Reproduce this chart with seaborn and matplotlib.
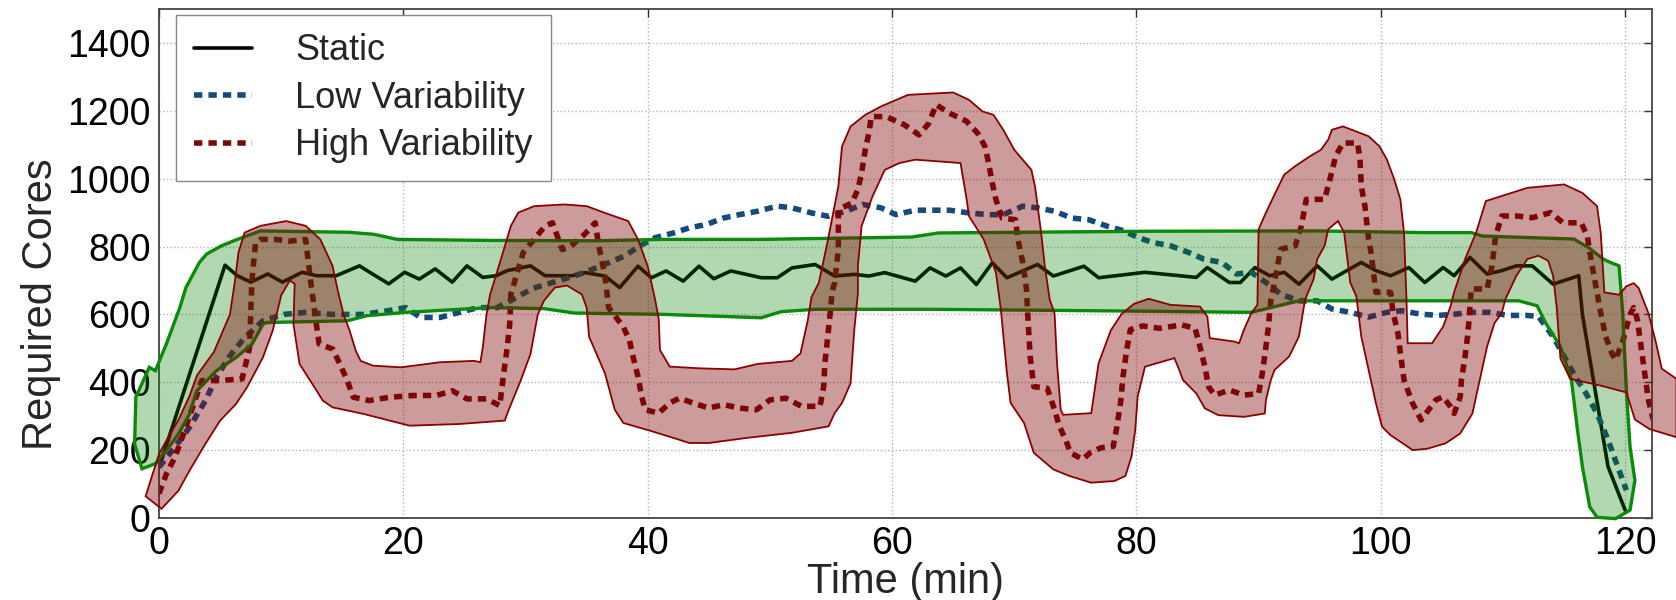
import numpy as np
import matplotlib
matplotlib.use('Agg')
import matplotlib.pyplot as plt
import seaborn as sns

# Static workload (black solid)
static_t = [0.2, 5.4, 6.4, 7.5, 8.9, 10.1, 11.7, 12.9, 14.5, 16.4,
            17.7, 18.8, 20.1, 21.3, 22.6, 24.0, 25.2, 26.5, 27.6, 28.5,
            30.4, 31.6, 33.8, 34.9, 36.5, 37.7, 39.2, 40.3, 41.5, 42.9,
            44.2, 45.4, 46.8, 49.3, 50.6, 51.8, 53.7, 55.3, 56.9, 58.1,
            59.4, 61.9, 63.1, 64.4, 65.6, 66.9, 68.2, 69.4, 71.9, 73.2,
            75.7, 76.9, 80.7, 84.9, 85.8, 87.6, 88.5, 89.7, 90.9, 92.1,
            93.3, 94.8, 96.0, 98.4, 99.6, 100.8, 102.3, 103.6, 105.1, 106.0,
            107.3, 108.7, 109.9, 111.1, 112.4, 114.1, 116.2, 116.5, 117.4, 118.6, 120.0]
static_y = [170, 745, 714, 695, 719, 695, 724, 714, 714, 743,
            714, 690, 724, 704, 734, 695, 743, 709, 714, 729,
            743, 714, 714, 723, 713, 679, 742, 708, 728, 698,
            742, 705, 728, 708, 708, 737, 747, 713, 718, 713,
            723, 698, 737, 713, 737, 688, 752, 708, 747, 713,
            742, 708, 724, 709, 738, 694, 694, 738, 714, 724,
            689, 743, 704, 753, 729, 714, 738, 694, 738, 714,
            768, 719, 729, 743, 743, 689, 714, 600, 407, 151, 23]

# Low variability (blue dashed)
low_t = [0, 1.3, 2.5, 3.8, 4.7, 5.7, 6.9, 8.5, 10.2, 12,
         14.2, 16.7, 18.6, 20.2, 21.4, 23, 24.6, 26.1, 27.7, 29,
         30.6, 32.5, 34.7, 36.8, 38.1, 39.3, 40.6, 42.1, 43.4, 44.8,
         46.2, 47.5, 49, 50.6, 51.8, 53.4, 54.8, 56.2, 57.6, 59.1,
         60.3, 61.9, 63.4, 64.7, 66.3, 67.8, 69.1, 70.7, 71.9, 73.3,
         74.7, 76.1, 77.6, 78.8, 80.2, 81.3, 82.8, 84.3, 85.5, 87,
         88.2, 89.4, 90.6, 91.8, 93.3, 94.8, 96, 97.5, 99, 100.5,
         101.7, 103.2, 104.7, 106.2, 107.4, 108.9, 110.4, 111.9, 112.9, 114.1,
         115, 115.9, 116.8, 117.7, 118.6, 119.2, 119.8, 120.1]
low_y = [150, 209, 268, 346, 415, 473, 527, 581, 600, 606,
         600, 600, 610, 620, 591, 591, 606, 620, 620, 645,
         677, 697, 722, 752, 772, 801, 826, 840, 855, 865,
         884, 894, 904, 919, 914, 899, 889, 904, 924, 914,
         894, 907, 907, 907, 899, 894, 894, 919, 914, 904,
         884, 879, 860, 848, 826, 812, 802, 782, 763, 753,
         719, 724, 694, 660, 640, 640, 616, 606, 592, 606,
         611, 601, 597, 601, 606, 606, 597, 597, 594, 535,
         476, 417, 367, 308, 230, 170, 111, 82]

# High variability (dark red dashed)
high_t = [0, 0.6, 1.3, 1.9, 2.5, 3.5, 5.0, 6.8, 7.4, 7.6,
          7.9, 8.3, 9.5, 10.7, 12.0, 12.4, 12.8, 13.1, 14.2, 14.8,
          15.4, 15.9, 17.2, 18.9, 20.8, 22.7, 24.0, 25.2, 26.8, 27.9,
          28.0, 28.2, 28.5, 28.7, 28.8, 29.8, 30.7, 31.6, 32.2, 33.0,
          33.7, 34.8, 35.7, 36.0, 36.5, 36.8, 38.0, 38.5, 38.8, 39.2,
          39.5, 39.8, 40.9, 41.8, 42.6, 43.7, 45.0, 46.2, 47.5, 48.9,
          50.0, 51.3, 52.6, 54.1, 54.4, 54.5, 54.7, 54.9, 55.1, 55.3,
          55.6, 55.6, 56.7, 57.2, 57.5, 57.8, 58.1, 58.3, 59.5, 61.0,
          62.2, 63.0, 63.6, 64.7, 66.1, 67.0, 67.6, 67.9, 68.2, 68.5,
          69.0, 70.1, 70.3, 70.7, 71.0, 71.1, 71.3, 71.6, 72.7, 73.2,
          73.7, 74.2, 74.6, 75.6, 76.2, 77.1, 78.1, 78.4, 78.7, 78.9,
          79.2, 79.5, 80.5, 81.9, 83.7, 84.8, 85.2, 85.6, 85.9, 86.4,
          87.6, 88.8, 90.0, 90.3, 90.6, 90.8, 91.0, 91.2, 91.8, 93.0,
          93.5, 93.9, 95.4, 95.9, 96.3, 96.9, 98.1, 98.3, 98.4, 98.7,
          99.0, 99.2, 99.6, 100.8, 101.0, 101.4, 101.6, 101.9, 102.2, 102.6,
          103.3, 103.9, 104.5, 105.1, 105.7, 106.0, 106.5, 106.6, 106.9, 107.1,
          107.2, 107.4, 108.7, 109.1, 109.4, 109.9, 111.1, 112.4, 113.9, 114.9,
          116.4, 116.9, 117.2, 117.5, 117.8, 118.0, 118.4, 118.9, 119.2, 119.8,
          120.4, 120.7, 121.0, 121.3, 121.6, 121.9, 122.3]
high_y = [72, 130, 179, 238, 300, 405, 405, 410, 500, 700,
          810, 821, 821, 816, 821, 700, 591, 513, 498, 454,
          405, 356, 346, 356, 361, 361, 375, 351, 351, 331,
          366, 424, 503, 571, 660, 782, 821, 861, 870, 791,
          801, 835, 870, 801, 713, 620, 563, 524, 475, 417,
          358, 319, 309, 339, 353, 339, 324, 334, 324, 319,
          348, 353, 329, 329, 387, 456, 524, 592, 670, 693,
          791, 909, 928, 968, 1017, 1085, 1134, 1183, 1183, 1159,
          1129, 1163, 1218, 1193, 1169, 1134, 1095, 1046, 987, 938,
          884, 879, 821, 752, 674, 600, 475, 387, 382, 329,
          270, 231, 192, 173, 192, 207, 211, 269, 340, 417,
          495, 555, 566, 559, 569, 559, 505, 446, 387, 362,
          377, 362, 367, 426, 505, 564, 643, 675, 792, 802,
          861, 939, 939, 1007, 1066, 1105, 1105, 1056, 978, 919,
          822, 782, 665, 665, 606, 545, 486, 407, 377, 338,
          289, 318, 348, 357, 328, 308, 357, 407, 476, 535,
          574, 675, 675, 743, 831, 890, 890, 885, 900, 870,
          870, 831, 763, 704, 645, 604, 535, 486, 466, 520,
          600, 620, 584, 505, 427, 348, 290]

# hand drawn green highlight around the static curve (outline, upper / lower side)
green_top_t = [-0.8, -0.3, 0.6, 1.3, 1.7, 2.2, 3.3, 3.9, 5.1, 6.4,
               8.3, 15.5, 17.6, 19.5, 27.0, 35.9, 41.2, 49.3, 61.6, 63.8,
               80.9, 94.8, 103.7, 107.4, 108.3, 115.8, 117.0, 118.2, 118.8, 119.5,
               119.8, 120.1, 120.4, 120.8]
green_top_y = [444, 434, 513, 581, 620, 679, 753, 778, 802, 821,
               846, 842, 836, 821, 818, 817, 821, 821, 828, 840,
               845, 846, 841, 841, 831, 822, 797, 763, 753, 743,
               604, 377, 210, 111]
green_bot_t = [-0.8, -1.9, -2.0, -1.4, -0.3, 0.6, 1.6, 2.5, 3.1, 4.7,
               6.3, 7.6, 8.5, 8.8, 15.4, 17.0, 20.2, 27.1, 31.5, 34.0,
               41.3, 49.3, 50.9, 53.7, 63.1, 78.8, 89.4, 93.3, 111.3, 112.8,
               113.5, 114.7, 115.6, 116.1, 116.5, 117.1, 117.7, 119.2, 120.4, 120.8]
green_bot_y = [444, 356, 218, 145, 160, 199, 248, 307, 375, 434,
               473, 512, 571, 576, 581, 596, 606, 620, 617, 604,
               600, 590, 608, 615, 615, 610, 606, 640, 640, 625,
               574, 505, 407, 259, 151, 33, 2, -2, 23, 111]

# hand drawn red highlight around the high variability curve
red_top_t = [-1.1, -0.6, 0.0, 0.6, 1.6, 2.5, 3.1, 4.5, 5.8, 6.2,
             6.5, 7.0, 8.3, 10.4, 12.0, 13.2, 14.2, 14.6, 15.1, 15.6,
             16.1, 16.5, 17.5, 19.8, 23.0, 25.8, 26.3, 26.5, 26.8, 27.1,
             27.9, 28.8, 29.4, 30.7, 33.2, 35.0, 36.5, 38.4, 39.2, 40.0,
             40.6, 40.9, 41.0, 41.8, 44.3, 47.1, 49.0, 51.8, 52.5, 53.1,
             53.4, 54.0, 54.7, 55.6, 55.9, 56.6, 57.8, 59.1, 61.3, 65.0,
             66.3, 67.4, 68.3, 69.1, 70.0, 71.4, 71.7, 72.2, 72.5, 72.9,
             73.3, 73.5, 73.8, 74.0, 76.3, 76.9, 77.9, 78.8, 79.8, 81.0,
             82.8, 85.2, 85.8, 86.0, 88.0, 88.4, 88.8, 89.4, 89.9, 90.0,
             90.6, 91.5, 92.1, 93.0, 94.2, 95.1, 95.7, 96.0, 96.9, 99.0,
             99.9, 100.5, 101.1, 101.6, 101.9, 102.0, 102.1, 102.2, 104.2, 105.1,
             105.7, 106.0, 106.9, 107.8, 108.6, 109.9, 112.0, 115.0, 116.5, 117.7,
             118.0, 118.3, 118.6, 119.5, 120.1, 120.7, 121.1, 121.9, 122.5, 123.0, 124.2]
red_top_y = [64, 121, 189, 228, 290, 360, 420, 490, 600, 695,
             782, 841, 861, 875, 861, 821, 743, 675, 600, 552,
             493, 463, 449, 444, 459, 463, 459, 503, 600, 659,
             753, 861, 900, 919, 924, 919, 899, 875, 821, 742,
             644, 585, 495, 446, 441, 438, 454, 463, 485, 583,
             651, 693, 811, 977, 1095, 1154, 1188, 1213, 1247, 1254,
             1232, 1198, 1188, 1144, 1085, 1026, 977, 840, 742, 644,
             602, 456, 319, 304, 309, 456, 553, 602, 631, 646,
             628, 623, 594, 530, 520, 515, 555, 604, 628, 851,
             900, 968, 1012, 1037, 1066, 1085, 1115, 1144, 1154, 1125,
             1095, 1056, 998, 939, 841, 743, 645, 515, 515, 564,
             623, 665, 763, 841, 934, 949, 973, 983, 958, 919,
             841, 665, 663, 658, 683, 692, 678, 604, 520, 440, 410]
red_bot_t = [-1.1, 0.2, 1.6, 1.9, 2.5, 3.8, 5.0, 6.3, 7.2, 8.5,
             9.3, 10.0, 10.7, 11.1, 11.0, 11.5, 12.9, 13.4, 14.2, 16.7,
             20.5, 24.6, 28.3, 28.6, 29.6, 30.4, 31.0, 31.5, 32.4, 33.4,
             34.6, 35.0, 35.2, 36.5, 37.3, 38.0, 40.3, 42.1, 43.4, 45.0,
             48.1, 51.8, 54.8, 55.3, 55.9, 56.6, 56.9, 57.2, 57.2, 57.5,
             58.4, 59.4, 60.6, 61.9, 65.6, 66.1, 66.3, 67.5, 68.5, 68.9,
             69.4, 69.7, 70.8, 71.6, 73.2, 74.5, 76.3, 78.2, 79.1, 79.6,
             79.9, 80.1, 80.7, 83.1, 83.4, 83.8, 84.9, 85.6, 86.7, 88.8,
             90.5, 90.6, 91.0, 91.3, 92.5, 93.3, 93.8, 94.5, 94.8, 95.4,
             95.7, 96.5, 97.0, 97.2, 97.5, 98.0, 98.4, 99.6, 100.1, 100.8,
             102.0, 102.6, 103.8, 105.3, 106.5, 107.5, 108.1, 108.7, 109.3, 109.9,
             110.2, 111.1, 112.0, 112.9, 113.7, 114.1, 114.4, 114.7, 115.5, 118.0,
             120.1, 120.8, 122.0, 124.2]
red_bot_y = [64, 27, 81, 101, 140, 219, 287, 336, 385, 473,
             552, 656, 700, 690, 571, 454, 375, 346, 326, 307,
             272, 277, 287, 317, 405, 483, 600, 640, 679, 685,
             659, 620, 534, 426, 319, 280, 256, 236, 221, 221,
             236, 251, 270, 309, 339, 397, 553, 661, 742, 860,
             948, 1026, 1046, 1056, 1046, 939, 889, 821, 723, 615,
             426, 339, 280, 192, 143, 124, 104, 109, 124, 182,
             259, 358, 446, 471, 446, 407, 367, 323, 303, 298,
             308, 348, 407, 436, 476, 535, 643, 704, 763, 802,
             851, 875, 841, 782, 694, 653, 535, 338, 269, 244,
             215, 200, 204, 220, 249, 308, 407, 505, 574, 604,
             645, 714, 763, 773, 758, 714, 620, 470, 410, 390,
             370, 290, 262, 238]

sns.set_theme(style='white')
plt.rcParams['font.family'] = ['Liberation Sans', 'DejaVu Sans']

fig = plt.figure(figsize=(16.76, 6), dpi=100)
ax = fig.add_axes([0.0949, 0.1367, 0.8908, 0.8483])

dash = (0, (1.5, 1.1))
sns.lineplot(x=static_t, y=static_y, ax=ax, color='black', lw=2.6,
             label='Static', sort=False, estimator=None, zorder=2)
sns.lineplot(x=low_t, y=low_y, ax=ax, color='#154a7e', lw=4, linestyle=dash,
             label='Low Variability', sort=False, estimator=None, zorder=2)
sns.lineplot(x=high_t, y=high_y, ax=ax, color='#7d0808', lw=4, linestyle=dash,
             label='High Variability', sort=False, estimator=None, zorder=2)

# highlight bands drawn over the curves
ax.fill(np.r_[green_top_t, green_bot_t[::-1]], np.r_[green_top_y, green_bot_y[::-1]],
        facecolor=(0.0, 0.5, 0.0, 0.3), edgecolor='#0b8a0b', lw=2.4,
        zorder=3, clip_on=False)
ax.fill(np.r_[red_top_t, red_bot_t[::-1]], np.r_[red_top_y, red_bot_y[::-1]],
        facecolor=(0.5, 0.02, 0.02, 0.4), edgecolor='#8b0000', lw=1.3,
        zorder=4, clip_on=False)

ax.set_xlim(0, 122.2)
ax.set_ylim(0, 1500)
ax.set_xticks(range(0, 121, 20))
ax.set_yticks(range(0, 1401, 200))
ax.grid(True, ls=':', color='#b5b5b5', lw=1.0)
ax.set_axisbelow(True)
ax.tick_params(direction='in', length=6, width=1, top=True, right=True,
               labelsize=27, pad=6, colors='#333333', labelcolor='black')
for s in ax.spines.values():
    s.set_color('#444444')
    s.set_linewidth(1.3)

ax.set_xlabel('Time (min)', fontsize=30, labelpad=0)
ax.set_ylabel('Required Cores', fontsize=30)
ax.yaxis.set_label_coords(-0.066, 0.42)

ax.legend(loc='upper left', bbox_to_anchor=(0.0114, 0.988), borderaxespad=0,
          fontsize=26, frameon=True, fancybox=False, edgecolor='#888888',
          framealpha=1, handlelength=1.6, handletextpad=1.2, borderpad=0.5,
          labelspacing=0.35)

fig.savefig('out.png', dpi=100)
